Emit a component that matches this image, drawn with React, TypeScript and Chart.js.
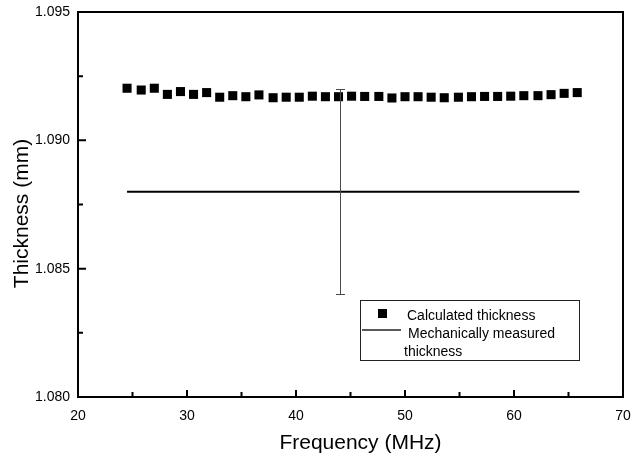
import React, { useEffect, useRef } from "react";
import { Chart, registerables } from "chart.js";

Chart.register(...registerables);

const FONT = "'Liberation Sans', Arial, Helvetica, sans-serif";

// Calculated thickness (square markers)
const frequency = [
  24.5, 25.8, 27.0, 28.2, 29.4, 30.6, 31.8, 33.0, 34.2, 35.4, 36.6, 37.9,
  39.1, 40.3, 41.5, 42.7, 43.9, 45.1, 46.3, 47.6, 48.8, 50.0, 51.2, 52.4,
  53.6, 54.9, 56.1, 57.3, 58.5, 59.7, 60.9, 62.2, 63.4, 64.6, 65.8,
];
const calcThickness = [
  1.09203, 1.09196, 1.09203, 1.09179, 1.0919, 1.09179, 1.09186, 1.09168,
  1.09174, 1.0917, 1.09177, 1.09166, 1.09168, 1.09168, 1.09172, 1.0917,
  1.0917, 1.09172, 1.09171, 1.09171, 1.09165, 1.0917, 1.0917, 1.09168,
  1.09166, 1.09168, 1.0917, 1.09171, 1.09171, 1.09172, 1.09174, 1.09174,
  1.09178, 1.09183, 1.09186,
];

// Mechanically measured thickness (solid line)
const mechFrequency = [24.5, 66.0];
const mechThickness = [1.088, 1.088];

// Error bar on the mechanical measurement
const errFrequency = [44.0];
const errLow = [1.084];
const errHigh = [1.092];

// Axes
const xMajorTicks = [20, 30, 40, 50, 60, 70];
const xMinorTicks = [25, 35, 45, 55, 65];
const yMajorTicks = [1.08, 1.085, 1.09, 1.095];
const yMinorTicks = [1.0825, 1.0875, 1.0925];
const xTitle = "Frequency (MHz)";
const yTitle = "Thickness (mm)";
const legendTexts = ["Calculated thickness", "Mechanically measured", "thickness"];

const decorPlugin = {
  id: "decor",
  afterDatasetsDraw(chart: any) {
    const { ctx, scales } = chart;
    const xs = scales.x;
    const ys = scales.y;
    ctx.save();
    ctx.strokeStyle = "#4a4a4a";
    ctx.lineWidth = 1;
    ctx.beginPath();
    errFrequency.forEach((f, i) => {
      const px = Math.round(xs.getPixelForValue(f)) + 0.5;
      const pLow = ys.getPixelForValue(errLow[i]);
      const pHigh = ys.getPixelForValue(errHigh[i]);
      ctx.moveTo(px, pLow);
      ctx.lineTo(px, pHigh);
      ctx.moveTo(px - 4.5, Math.round(pLow) + 0.5);
      ctx.lineTo(px + 4.5, Math.round(pLow) + 0.5);
      ctx.moveTo(px - 4.5, Math.round(pHigh) + 0.5);
      ctx.lineTo(px + 4.5, Math.round(pHigh) + 0.5);
    });
    ctx.stroke();
    ctx.restore();
  },
  afterDraw(chart: any) {
    const { ctx, chartArea: a, scales } = chart;
    const xs = scales.x;
    const ys = scales.y;
    ctx.save();
    // frame
    ctx.strokeStyle = "#000";
    ctx.lineWidth = 2;
    ctx.strokeRect(a.left, a.top, a.right - a.left, a.bottom - a.top);
    // inward ticks
    ctx.beginPath();
    xMajorTicks.forEach((v) => {
      const p = xs.getPixelForValue(v);
      ctx.moveTo(p, a.bottom);
      ctx.lineTo(p, a.bottom - 7);
    });
    xMinorTicks.forEach((v) => {
      const p = xs.getPixelForValue(v);
      ctx.moveTo(p, a.bottom);
      ctx.lineTo(p, a.bottom - 5);
    });
    yMajorTicks.forEach((v) => {
      const p = ys.getPixelForValue(v);
      ctx.moveTo(a.left, p);
      ctx.lineTo(a.left + 8, p);
    });
    yMinorTicks.forEach((v) => {
      const p = ys.getPixelForValue(v);
      ctx.moveTo(a.left, p);
      ctx.lineTo(a.left + 5, p);
    });
    ctx.stroke();

    // axis titles
    ctx.fillStyle = "#000";
    ctx.font = `21px ${FONT}`;
    ctx.textAlign = "center";
    ctx.textBaseline = "middle";
    ctx.fillText(xTitle, (a.left + a.right) / 2 + 10, a.bottom + 46);
    ctx.save();
    ctx.translate(a.left - 56, (a.top + a.bottom) / 2 + 9);
    ctx.rotate(-Math.PI / 2);
    ctx.fillText(yTitle, 0, 0);
    ctx.restore();

    // legend
    const bw = 219;
    const bh = 60;
    const bl = a.right - 44 - bw;
    const bt = a.bottom - 97;
    ctx.fillStyle = "#fff";
    ctx.fillRect(bl, bt, bw, bh);
    ctx.strokeStyle = "#222";
    ctx.lineWidth = 1;
    ctx.strokeRect(bl + 0.5, bt + 0.5, bw, bh);
    ctx.fillStyle = "#000";
    ctx.fillRect(bl + 18, bt + 9, 9, 9);
    ctx.lineWidth = 1.5;
    ctx.beginPath();
    ctx.moveTo(bl + 2, bt + 30);
    ctx.lineTo(bl + 41, bt + 30);
    ctx.stroke();
    ctx.font = `14px ${FONT}`;
    ctx.textAlign = "left";
    ctx.textBaseline = "middle";
    ctx.fillText(legendTexts[0], bl + 47, bt + 16);
    ctx.fillText(legendTexts[1], bl + 48, bt + 34);
    ctx.fillText(legendTexts[2], bl + 44, bt + 52);
    ctx.restore();
  },
};

export default function App() {
  const canvasRef = useRef<HTMLCanvasElement | null>(null);

  useEffect(() => {
    if (!canvasRef.current) return;
    const chart = new Chart(canvasRef.current, {
      type: "scatter",
      data: {
        datasets: [
          {
            label: "Calculated thickness",
            data: frequency.map((f, i) => ({ x: f, y: calcThickness[i] })),
            pointStyle: "rect",
            pointRadius: 6.4,
            pointHoverRadius: 6.4,
            backgroundColor: "#000",
            borderWidth: 0,
            showLine: false,
          },
          {
            label: "Mechanically measured thickness",
            data: mechFrequency.map((f, i) => ({ x: f, y: mechThickness[i] })),
            showLine: true,
            borderColor: "#000",
            borderWidth: 2,
            pointRadius: 0,
            fill: false,
          },
        ],
      },
      options: {
        animation: false,
        responsive: true,
        maintainAspectRatio: false,
        layout: { padding: { top: 12, right: 13, left: 0, bottom: 0 } },
        plugins: {
          legend: { display: false },
          tooltip: { enabled: false },
        },
        scales: {
          x: {
            type: "linear",
            min: 20,
            max: 70,
            grid: { display: false, drawTicks: false },
            border: { display: false },
            ticks: {
              stepSize: 10,
              padding: 11,
              color: "#000",
              font: { family: FONT, size: 14 },
            },
            afterFit(scale: any) {
              scale.height = 57;
              scale.paddingLeft = 0;
              scale.paddingRight = 0;
            },
          },
          y: {
            type: "linear",
            min: 1.08,
            max: 1.095,
            grid: { display: false, drawTicks: false },
            border: { display: false },
            ticks: {
              stepSize: 0.005,
              padding: 8,
              color: "#000",
              font: { family: FONT, size: 14 },
              callback: (v: any) => Number(v).toFixed(3),
            },
            afterFit(scale: any) {
              scale.width = 78;
              scale.paddingTop = 0;
              scale.paddingBottom = 0;
            },
          },
        },
      },
      plugins: [decorPlugin],
    });
    return () => chart.destroy();
  }, []);

  return (
    <div style={{ position: "absolute", left: 0, top: 0, width: 636, height: 454, background: "#fff" }}>
      <canvas ref={canvasRef} />
    </div>
  );
}
